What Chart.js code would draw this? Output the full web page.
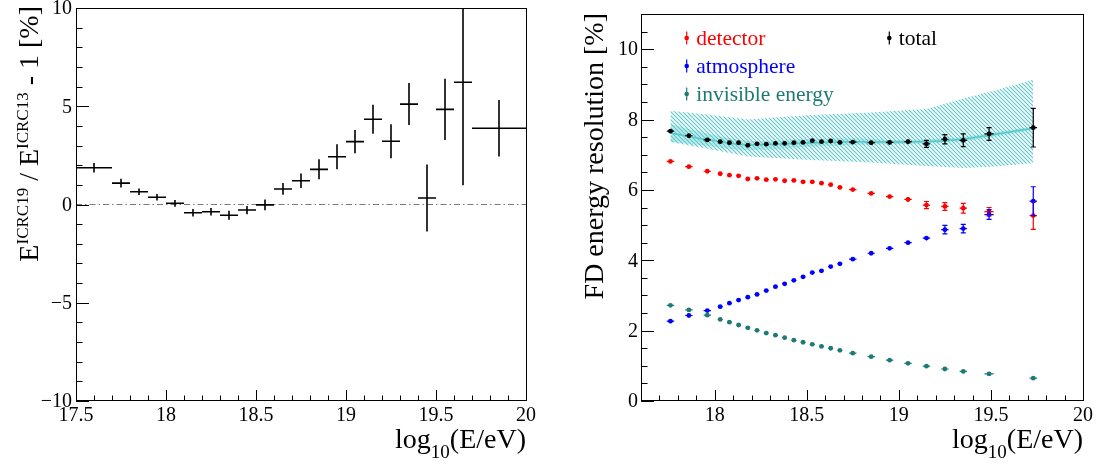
<!DOCTYPE html>
<html>
<head>
<meta charset="utf-8">
<script src="https://cdn.jsdelivr.net/npm/chart.js@4.4.1/dist/chart.umd.min.js"></script>
<style>
  body { margin: 0; background: #fff; }
  #wrap { position: relative; width: 1102px; height: 468px; overflow: hidden; background: #fff; }
  canvas { position: absolute; top: -20px; }
  #left { left: 0; }
  #right { left: 551px; }
</style>
</head>
<body>
<div id="wrap">
  <canvas id="left" width="551" height="488"></canvas>
  <canvas id="right" width="551" height="488"></canvas>
</div>
<script>
// left panel: E(ICRC19)/E(ICRC13) - 1 in percent
const shiftE    = [17.6, 17.75, 17.85, 17.95, 18.05, 18.15, 18.25, 18.35, 18.45, 18.55, 18.65,
                   18.75, 18.85, 18.95, 19.05, 19.15, 19.25, 19.35, 19.45, 19.55, 19.65, 19.85];
const shiftEErr = [0.1, 0.05, 0.05, 0.05, 0.05, 0.05, 0.05, 0.05, 0.05, 0.05, 0.05,
                   0.05, 0.05, 0.05, 0.05, 0.05, 0.05, 0.05, 0.05, 0.05, 0.05, 0.15];
const shiftVal  = [1.87, 1.09, 0.65, 0.37, 0.06, -0.42, -0.37, -0.55, -0.28, -0.02, 0.79,
                   1.21, 1.79, 2.43, 3.2, 4.34, 3.22, 5.11, 0.33, 4.84, 6.22, 3.88];
const shiftErr  = [0.24, 0.22, 0.17, 0.17, 0.17, 0.19, 0.19, 0.23, 0.21, 0.27, 0.3,
                   0.37, 0.51, 0.63, 0.59, 0.74, 0.87, 1.07, 1.7, 1.56, 5.24, 1.44];
const leftXTicks = [17.5, 18, 18.5, 19, 19.5, 20];
const leftYTicks = [-10, -5, 0, 5, 10];

// right panel: FD energy resolution contributions
const resE    = [17.76, 17.86, 17.96, 18.03, 18.08, 18.13, 18.18, 18.23, 18.28, 18.33, 18.38, 18.43, 18.48,
                 18.53, 18.58, 18.63, 18.68, 18.75, 18.85, 18.95, 19.05, 19.15, 19.25, 19.35, 19.49, 19.73];
const resEErr = [0.02, 0.02, 0.02, 0.013, 0.013, 0.013, 0.013, 0.013, 0.013, 0.013, 0.013, 0.013, 0.013,
                 0.013, 0.013, 0.013, 0.013, 0.02, 0.02, 0.02, 0.02, 0.02, 0.02, 0.02, 0.025, 0.02];
const detector    = [6.81, 6.66, 6.53, 6.46, 6.42, 6.40, 6.31, 6.33, 6.29, 6.30, 6.26, 6.27, 6.23,
                     6.23, 6.19, 6.15, 6.07, 6.01, 5.90, 5.81, 5.73, 5.57, 5.53, 5.48, 5.38, 5.27];
const detectorErr = [0.03, 0.03, 0.03, 0.03, 0.03, 0.03, 0.03, 0.03, 0.03, 0.03, 0.03, 0.03, 0.03,
                     0.03, 0.03, 0.03, 0.03, 0.04, 0.04, 0.05, 0.07, 0.1, 0.11, 0.14, 0.12, 0.39];
const atmosphere    = [2.27, 2.43, 2.57, 2.68, 2.78, 2.87, 2.95, 3.03, 3.14, 3.25, 3.33, 3.43, 3.53,
                       3.65, 3.70, 3.82, 3.90, 4.03, 4.20, 4.34, 4.50, 4.63, 4.87, 4.90, 5.30, 5.68];
const atmosphereErr = [0.03, 0.03, 0.03, 0.03, 0.03, 0.03, 0.03, 0.03, 0.03, 0.03, 0.03, 0.03, 0.03,
                       0.03, 0.03, 0.03, 0.03, 0.04, 0.04, 0.05, 0.05, 0.06, 0.12, 0.12, 0.14, 0.41];
const invisible    = [2.72, 2.59, 2.44, 2.32, 2.24, 2.16, 2.08, 2.01, 1.93, 1.87, 1.80, 1.73, 1.67,
                      1.61, 1.55, 1.50, 1.44, 1.36, 1.26, 1.16, 1.07, 0.99, 0.91, 0.84, 0.77, 0.65];
const invisibleErr = [0.02, 0.02, 0.02, 0.02, 0.02, 0.02, 0.02, 0.02, 0.02, 0.02, 0.02, 0.02, 0.02,
                      0.02, 0.02, 0.02, 0.02, 0.02, 0.02, 0.02, 0.02, 0.02, 0.02, 0.02, 0.02, 0.02];
const total    = [7.67, 7.54, 7.42, 7.37, 7.34, 7.34, 7.27, 7.31, 7.30, 7.32, 7.32, 7.34, 7.35,
                  7.40, 7.37, 7.39, 7.35, 7.36, 7.34, 7.35, 7.37, 7.31, 7.44, 7.41, 7.59, 7.77];
const totalErr = [0.04, 0.04, 0.04, 0.04, 0.04, 0.04, 0.04, 0.04, 0.04, 0.04, 0.04, 0.04, 0.04,
                  0.04, 0.04, 0.04, 0.04, 0.05, 0.05, 0.06, 0.07, 0.1, 0.13, 0.18, 0.18, 0.55];

// systematic band around the total (outer hatched, inner shaded, central curve)
const bandE     = [17.76, 17.96, 18.18, 18.5, 18.85, 19.15, 19.35, 19.5, 19.73];
const bandLow   = [7.36, 7.17, 6.95, 6.86, 6.78, 6.68, 6.62, 6.66, 6.76];
const bandHigh  = [8.25, 8.14, 8.0, 8.12, 8.2, 8.3, 8.6, 8.8, 9.13];
const innerE    = [17.76, 17.96, 18.18, 18.5, 18.75, 19.0, 19.3, 19.5, 19.73];
const innerLow  = [7.37, 7.25, 7.13, 7.22, 7.28, 7.3, 7.36, 7.5, 7.7];
const innerHigh = [7.87, 7.6, 7.4, 7.45, 7.47, 7.42, 7.48, 7.62, 7.8];
const curveE    = [17.76, 17.96, 18.18, 18.5, 18.75, 19.0, 19.2, 19.35, 19.5, 19.73];
const curveVal  = [7.62, 7.43, 7.28, 7.33, 7.37, 7.36, 7.38, 7.45, 7.56, 7.75];

const rightXTicks = [18, 18.5, 19, 19.5, 20];
const rightYTicks = [0, 2, 4, 6, 8, 10];

const seriesNames = ['detector', 'atmosphere', 'invisible energy', 'total'];

const FONT = "'Liberation Serif', 'DejaVu Serif', serif";
const RED = '#ff0000', BLUE = '#0000ff', TEAL = '#1f7a75', CYAN = '#55c8cc';

function pts(xs, ys) { return xs.map((x, i) => ({ x: x, y: ys[i] })); }
function minus(v) { return String(v).replace('-', '\u2212'); }

function hatch() {
  const c = document.createElement('canvas');
  c.width = 4; c.height = 4;
  const g = c.getContext('2d');
  g.strokeStyle = CYAN;
  g.lineWidth = 1.1;
  g.beginPath();
  g.moveTo(0, 0); g.lineTo(4, 4);
  g.moveTo(-1, 3); g.lineTo(1, 5);
  g.moveTo(3, -1); g.lineTo(5, 1);
  g.stroke();
  return g.createPattern(c, 'repeat');
}

// error bars drawn from the dataset's own elements and the scales
const errorBars = {
  id: 'errorBars',
  afterDatasetsDraw(chart) {
    const { ctx, chartArea: a, scales: { x, y } } = chart;
    ctx.save();
    ctx.beginPath();
    ctx.rect(a.left, a.top, a.right - a.left, a.bottom - a.top);
    ctx.clip();
    chart.data.datasets.forEach((ds, i) => {
      if (!ds.yErr) return;
      const meta = chart.getDatasetMeta(i);
      ctx.strokeStyle = ds.barColor;
      ctx.lineWidth = ds.barWidth;
      meta.data.forEach((el, j) => {
        const p = ds.data[j];
        const x0 = x.getPixelForValue(p.x - ds.xErr[j]), x1 = x.getPixelForValue(p.x + ds.xErr[j]);
        const y0 = y.getPixelForValue(p.y - ds.yErr[j]), y1 = y.getPixelForValue(p.y + ds.yErr[j]);
        ctx.beginPath();
        ctx.moveTo(x0, el.y); ctx.lineTo(x1, el.y);
        ctx.moveTo(el.x, y0); ctx.lineTo(el.x, y1);
        if (ds.cap && Math.abs(y0 - y1) > 6) {
          ctx.moveTo(el.x - ds.cap, y0); ctx.lineTo(el.x + ds.cap, y0);
          ctx.moveTo(el.x - ds.cap, y1); ctx.lineTo(el.x + ds.cap, y1);
        }
        ctx.stroke();
      });
    });
    ctx.restore();
  }
};

// ROOT style frame with inner ticks and labels on the bottom and left axes
const rootFrame = {
  id: 'rootFrame',
  afterDraw(chart, args, o) {
    const { ctx, chartArea: a, scales: { x, y } } = chart;
    ctx.save();
    ctx.strokeStyle = '#000';
    ctx.lineWidth = 1;
    ctx.strokeRect(Math.round(a.left) + 0.5, Math.round(a.top) + 0.5,
                   Math.round(a.right - a.left), Math.round(a.bottom - a.top) - 1);
    ctx.beginPath();
    const isMajor = (v, list) => list.some(m => Math.abs(m - v) < 1e-6);
    let n = Math.round((x.max - x.min) / o.xMinor);
    for (let i = 0; i <= n; i++) {
      const v = x.min + i * o.xMinor;
      const px = Math.round(x.getPixelForValue(v)) + 0.5;
      const len = isMajor(v, o.xMajor) ? 11 : 5.5;
      ctx.moveTo(px, a.bottom); ctx.lineTo(px, a.bottom - len);
    }
    n = Math.round((y.max - y.min) / o.yMinor);
    for (let i = 0; i <= n; i++) {
      const v = y.min + i * o.yMinor;
      const py = Math.round(y.getPixelForValue(v)) + 0.5;
      const len = isMajor(v, o.yMajor) ? 13 : 6.5;
      ctx.moveTo(a.left, py); ctx.lineTo(a.left + len, py);
    }
    ctx.stroke();

    // tick labels placed with the chart's scales
    ctx.fillStyle = '#000';
    ctx.font = '20px ' + FONT;
    ctx.textAlign = 'center';
    ctx.textBaseline = 'top';
    o.xMajor.forEach(v => ctx.fillText(minus(v), x.getPixelForValue(v), a.bottom + 5));
    ctx.textAlign = 'right';
    ctx.textBaseline = 'middle';
    o.yMajor.forEach(v => ctx.fillText(minus(v), a.left - o.yPad, y.getPixelForValue(v) + 1));
    ctx.restore();
  }
};

// axis titles with sub/superscripts
function richWidth(ctx, parts) {
  return parts.reduce((w, p) => { ctx.font = p.s + 'px ' + FONT; return w + ctx.measureText(p.t).width; }, 0);
}
function richDraw(ctx, parts, x0, y0) {
  let cx = x0;
  parts.forEach(p => {
    ctx.font = p.s + 'px ' + FONT;
    ctx.fillText(p.t, cx, y0 + (p.dy || 0));
    cx += ctx.measureText(p.t).width;
  });
}
const titles = {
  id: 'titles',
  afterDraw(chart, args, o) {
    const { ctx, chartArea: a } = chart;
    ctx.save();
    ctx.fillStyle = '#000';
    ctx.textBaseline = 'alphabetic';
    const wx = richWidth(ctx, o.x);
    richDraw(ctx, o.x, a.right - wx, o.xBase);
    const wy = richWidth(ctx, o.y);
    ctx.translate(o.yBase, o.yEnd + wy);
    ctx.rotate(-Math.PI / 2);
    richDraw(ctx, o.y, 0, 0);
    ctx.restore();
  }
};

// legend in the style of the original
const rootLegend = {
  id: 'rootLegend',
  afterDraw(chart, args, o) {
    if (!o.items) return;
    const { ctx } = chart;
    ctx.save();
    ctx.font = '21.5px ' + FONT;
    ctx.textBaseline = 'alphabetic';
    o.items.forEach(it => {
      ctx.strokeStyle = it.color;
      ctx.fillStyle = it.color;
      ctx.lineWidth = 1.2;
      ctx.beginPath();
      ctx.moveTo(it.x, it.y - 6.5); ctx.lineTo(it.x, it.y + 6.5);
      ctx.stroke();
      ctx.beginPath();
      ctx.arc(it.x, it.y, 2.3, 0, Math.PI * 2);
      ctx.fill();
      ctx.fillText(it.label, it.x + 9.5, it.y + 6.5);
    });
    ctx.restore();
  }
};

Chart.defaults.font.family = FONT;
Chart.defaults.color = '#000';

function axis(min, max, fit) {
  return {
    type: 'linear', min: min, max: max,
    grid: { display: false, drawTicks: false },
    border: { display: false },
    ticks: { display: false },
    afterFit: fit
  };
}

document.addEventListener('DOMContentLoaded', function() {
  new Chart(document.getElementById('left'), {
    type: 'scatter',
    data: {
      datasets: [
        {
          data: pts(shiftE, shiftVal), pointRadius: 0,
          xErr: shiftEErr, yErr: shiftErr, barColor: '#000', barWidth: 1.6, order: 0
        },
        {
          type: 'line', data: pts([17.5, 20], [0, 0]), pointRadius: 0, fill: false,
          borderColor: '#7a7a7a', borderWidth: 1.2, borderDash: [6, 3, 1.5, 3], order: 5
        }
      ]
    },
    options: {
      responsive: false, animation: false, events: [],
      layout: { padding: { top: 28, right: 25, left: 0, bottom: 0 } },
      scales: {
        x: axis(17.5, 20, s => { s.height = 67; }),
        y: axis(-10, 10, s => { s.width = 76; })
      },
      plugins: {
        legend: { display: false }, tooltip: { enabled: false },
        rootFrame: { xMinor: 0.1, xMajor: leftXTicks, yMinor: 1, yMajor: leftYTicks, yPad: 4 },
        titles: {
          x: [{ t: 'log', s: 28 }, { t: '10', s: 19, dy: 10 }, { t: '(E/eV)', s: 28 }], xBase: 468,
          y: [{ t: 'E', s: 28 }, { t: 'ICRC19', s: 17, dy: -10 }, { t: ' / E', s: 28 },
              { t: 'ICRC13', s: 17, dy: -10 }, { t: ' - 1 [%]', s: 28 }],
          yBase: 38, yEnd: 26
        }
      }
    },
    plugins: [errorBars, rootFrame, titles]
  });

  const series = [
    { name: seriesNames[0], ys: detector, err: detectorErr, color: RED },
    { name: seriesNames[1], ys: atmosphere, err: atmosphereErr, color: BLUE },
    { name: seriesNames[2], ys: invisible, err: invisibleErr, color: TEAL },
    { name: seriesNames[3], ys: total, err: totalErr, color: '#000' }
  ];
  const pattern = hatch();
  const datasets = [
    { data: pts(bandE, bandLow), pointRadius: 0, borderWidth: 0, fill: false, order: 20 },
    { data: pts(bandE, bandHigh), pointRadius: 0, borderWidth: 0, fill: '-1', backgroundColor: pattern, order: 20 },
    { data: pts(innerE, innerLow), pointRadius: 0, borderWidth: 0, fill: false, order: 19, tension: 0.3 },
    { data: pts(innerE, innerHigh), pointRadius: 0, borderWidth: 0, fill: '-1', tension: 0.3,
      backgroundColor: 'rgba(85,200,204,0.35)', order: 19 },
    { data: pts(curveE, curveVal), pointRadius: 0, borderWidth: 1.5, borderColor: CYAN, fill: false,
      cubicInterpolationMode: 'monotone', order: 18 }
  ];
  series.forEach((s, k) => {
    datasets.push({
      label: s.name, data: pts(resE, s.ys), showLine: false,
      pointRadius: 2.4, pointBackgroundColor: s.color, pointBorderWidth: 0,
      xErr: resEErr, yErr: s.err, barColor: s.color, barWidth: 1.2, cap: 2.5, order: 3 - k
    });
  });

  new Chart(document.getElementById('right'), {
    type: 'line',
    data: { datasets: datasets },
    options: {
      responsive: false, animation: false, events: [],
      layout: { padding: { top: 34, right: 19, left: 0, bottom: 0 } },
      scales: {
        x: axis(17.6, 20, s => { s.height = 67; }),
        y: axis(0, 11, s => { s.width = 90; })
      },
      plugins: {
        legend: { display: false }, tooltip: { enabled: false },
        rootFrame: { xMinor: 0.1, xMajor: rightXTicks, yMinor: 0.5, yMajor: rightYTicks, yPad: 3 },
        titles: {
          x: [{ t: 'log', s: 28 }, { t: '10', s: 19, dy: 10 }, { t: '(E/eV)', s: 28 }], xBase: 468,
          y: [{ t: 'FD energy resolution [%]', s: 28 }],
          yBase: 52, yEnd: 33
        },
        rootLegend: {
          items: [
            { label: seriesNames[0], color: RED, x: 135.7, y: 58 },
            { label: seriesNames[1], color: BLUE, x: 135.7, y: 86 },
            { label: seriesNames[2], color: TEAL, x: 135.7, y: 114 },
            { label: seriesNames[3], color: '#000', x: 338.3, y: 58 }
          ]
        }
      }
    },
    plugins: [errorBars, rootFrame, titles, rootLegend]
  });
});
</script>
</body>
</html>
